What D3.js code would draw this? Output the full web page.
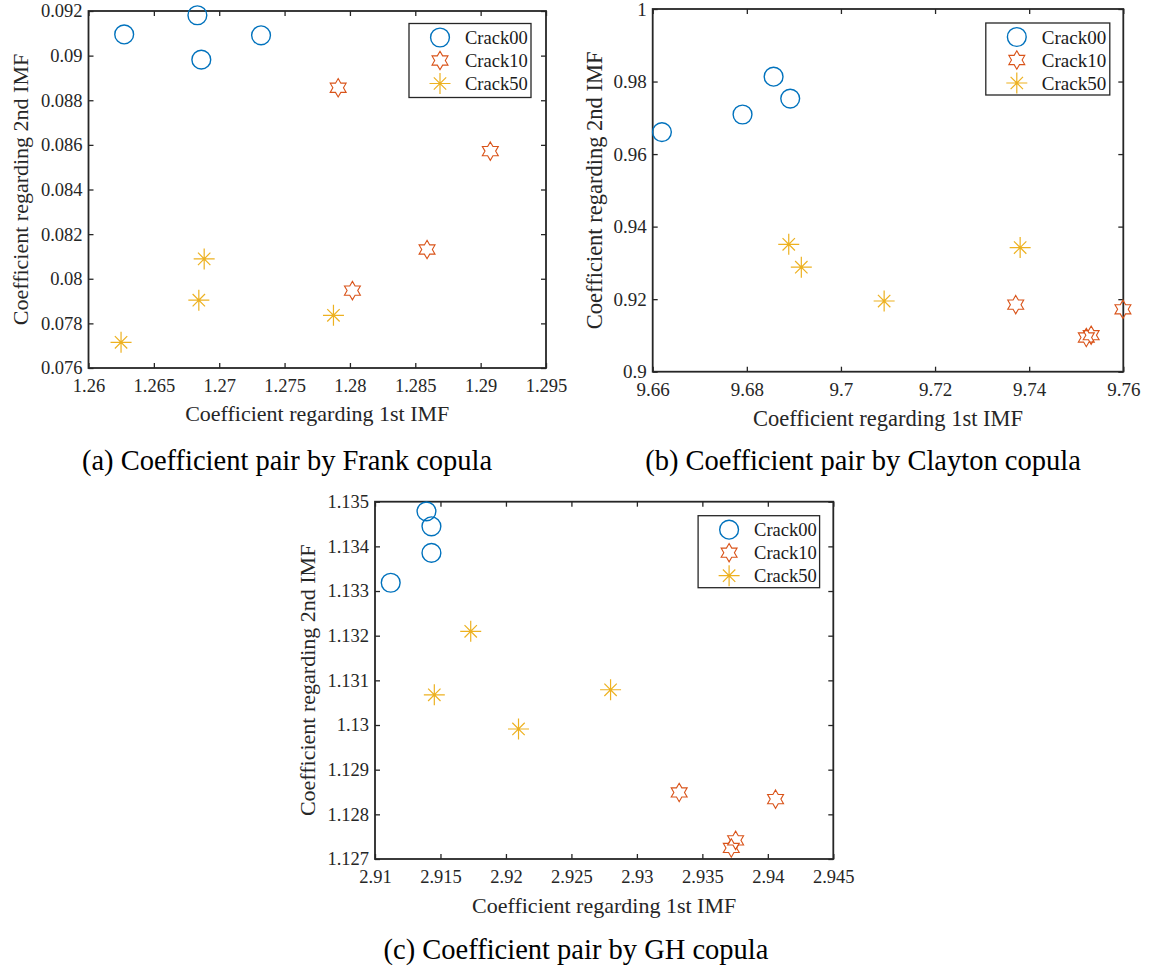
<!DOCTYPE html>
<html>
<head>
<meta charset="utf-8">
<script src="https://cdn.jsdelivr.net/npm/d3@7"></script>
<style>
  body { margin: 0; background: #fff; }
  svg text { font-family: "Liberation Serif", "Times New Roman", serif; }
</style>
</head>
<body>
<svg id="fig" width="1151" height="970"></svg>
<script>
// ---- data -------------------------------------------------------------
const seriesNames = ["Crack00", "Crack10", "Crack50"];

// (a) Frank copula: [1st IMF coefficient, 2nd IMF coefficient]
const frankCrack00 = [[1.26273, 0.09095], [1.26833, 0.09181], [1.26863, 0.08982], [1.27320, 0.09091]];
const frankCrack10 = [[1.27910, 0.08856], [1.29074, 0.08572], [1.28590, 0.08131], [1.28019, 0.07947]];
const frankCrack50 = [[1.26885, 0.08089], [1.26844, 0.07904], [1.26249, 0.07715], [1.27874, 0.07836]];
const frankXTicks = [1.26, 1.265, 1.27, 1.275, 1.28, 1.285, 1.29, 1.295];
const frankYTicks = [0.076, 0.078, 0.08, 0.082, 0.084, 0.086, 0.088, 0.09, 0.092];

// (b) Clayton copula
const claytonCrack00 = [[9.66196, 0.96606], [9.67909, 0.97091], [9.68569, 0.98134], [9.68922, 0.97530]];
const claytonCrack10 = [[9.73714, 0.91848], [9.75992, 0.91720], [9.75214, 0.90943], [9.75317, 0.91006]];
const claytonCrack50 = [[9.68891, 0.93513], [9.69158, 0.92882], [9.70918, 0.91949], [9.73808, 0.93422]];
const claytonXTicks = [9.66, 9.68, 9.7, 9.72, 9.74, 9.76];
const claytonYTicks = [0.9, 0.92, 0.94, 0.96, 0.98, 1];

// (c) GH copula
const ghCrack00 = [[2.91393, 1.134784], [2.91431, 1.134449], [2.91431, 1.133854], [2.91120, 1.133185]];
const ghCrack10 = [[2.93323, 1.128490], [2.94059, 1.128341], [2.93754, 1.127418], [2.93721, 1.127247]];
const ghCrack50 = [[2.91731, 1.132098], [2.91453, 1.130677], [2.92096, 1.129911], [2.92799, 1.130789]];
const ghXTicks = [2.91, 2.915, 2.92, 2.925, 2.93, 2.935, 2.94, 2.945];
const ghYTicks = [1.127, 1.128, 1.129, 1.13, 1.131, 1.132, 1.133, 1.134, 1.135];

const xTitle = "Coefficient regarding 1st IMF";
const yTitle = "Coefficient regarding 2nd IMF";

// ---- styling ----------------------------------------------------------
const seriesColor = { Crack00: "#0072BD", Crack10: "#D95319", Crack50: "#EDB120" };
const seriesMarker = { Crack00: "circle", Crack10: "hexagram", Crack50: "asterisk" };
const axisColor = "#262626";

const svg = d3.select("#fig");

// MATLAB-style marker glyphs centred on the origin
const hexagramPath = (() => {
  const R = 9.2, r = R / Math.sqrt(3);
  const pts = d3.range(12).map(i => [i * Math.PI / 6, i % 2 === 0 ? R : r]);
  return d3.lineRadial().angle(d => d[0]).radius(d => d[1]).curve(d3.curveLinearClosed)(pts);
})();

const asteriskPath = (() => {
  const p = d3.path();
  const a = 10.5, d = 6.2;
  p.moveTo(-a, 0); p.lineTo(a, 0);
  p.moveTo(0, -a); p.lineTo(0, a);
  p.moveTo(-d, -d); p.lineTo(d, d);
  p.moveTo(-d, d); p.lineTo(d, -d);
  return p.toString();
})();

function drawMarker(g, type, cx, cy, color) {
  if (type === "circle") {
    g.append("circle").attr("cx", cx).attr("cy", cy).attr("r", 9.4)
      .attr("fill", "none").attr("stroke", color).attr("stroke-width", 1.4);
  } else if (type === "hexagram") {
    g.append("path").attr("d", hexagramPath).attr("transform", `translate(${cx},${cy})`)
      .attr("fill", "none").attr("stroke", color).attr("stroke-width", 1.1)
      .attr("stroke-linejoin", "miter");
  } else {
    g.append("path").attr("d", asteriskPath).attr("transform", `translate(${cx},${cy})`)
      .attr("fill", "none").attr("stroke", color).attr("stroke-width", 1.2);
  }
}

function styleAxis(sel, fontSize) {
  sel.attr("font-family", null).attr("font-size", null);
  sel.select(".domain").remove();
  sel.selectAll(".tick line").attr("stroke", axisColor).attr("stroke-width", 1.3);
  sel.selectAll(".tick text").attr("fill", axisColor).style("font-size", fontSize + "px");
}

function drawPanel(cfg) {
  const w = cfg.right - cfg.left, h = cfg.bottom - cfg.top;
  const g = svg.append("g").attr("transform", `translate(${cfg.left},${cfg.top})`);

  const x = d3.scaleLinear().domain(d3.extent(cfg.xTicks)).range([0, w]);
  const y = d3.scaleLinear().domain(d3.extent(cfg.yTicks)).range([h, 0]);
  const fmt = d => String(d);

  g.append("g").attr("transform", `translate(0,${h})`)
    .call(d3.axisBottom(x).tickValues(cfg.xTicks).tickFormat(fmt).tickSize(-5).tickSizeOuter(0).tickPadding(11))
    .call(s => styleAxis(s, cfg.tickFont));
  g.append("g")
    .call(d3.axisTop(x).tickValues(cfg.xTicks).tickFormat("").tickSize(-5).tickSizeOuter(0))
    .call(s => styleAxis(s, cfg.tickFont));
  g.append("g")
    .call(d3.axisLeft(y).tickValues(cfg.yTicks).tickFormat(fmt).tickSize(-5).tickSizeOuter(0).tickPadding(6))
    .call(s => styleAxis(s, cfg.tickFont));
  g.append("g").attr("transform", `translate(${w},0)`)
    .call(d3.axisRight(y).tickValues(cfg.yTicks).tickFormat("").tickSize(-5).tickSizeOuter(0))
    .call(s => styleAxis(s, cfg.tickFont));

  g.append("rect").attr("width", w).attr("height", h)
    .attr("fill", "none").attr("stroke", axisColor).attr("stroke-width", 1.8);

  // axis titles
  g.append("text").attr("x", w / 2).attr("y", h + cfg.xTitleOffset).attr("dy", "0.35em")
    .attr("text-anchor", "middle").attr("fill", axisColor)
    .style("font-size", cfg.titleFont + "px").text(xTitle);
  g.append("text").attr("transform", `translate(${cfg.yTitleOffset},${h / 2}) rotate(-90)`)
    .attr("dy", "0.35em").attr("text-anchor", "middle").attr("fill", axisColor)
    .style("font-size", cfg.titleFont + "px").text(yTitle);

  // scatter points
  const pts = g.append("g");
  cfg.series.forEach((data, i) => {
    const name = seriesNames[i];
    data.forEach(d => drawMarker(pts, seriesMarker[name], x(d[0]), y(d[1]), seriesColor[name]));
  });

  // legend
  const lg = g.append("g").attr("transform", `translate(${w - cfg.legendInset - cfg.legendW},${cfg.legendTop})`);
  lg.append("rect").attr("width", cfg.legendW).attr("height", cfg.legendH)
    .attr("fill", "#fff").attr("stroke", axisColor).attr("stroke-width", 1.3);
  seriesNames.forEach((name, i) => {
    const cy = 14 + i * 23;
    drawMarker(lg, seriesMarker[name], 31, cy, seriesColor[name]);
    lg.append("text").attr("x", 56).attr("y", cy).attr("dy", "0.35em")
      .attr("fill", "#1a1a1a").style("font-size", cfg.tickFont + "px").text(name);
  });

  // caption
  svg.append("text").attr("x", cfg.captionX).attr("y", cfg.captionY)
    .attr("text-anchor", "middle").attr("fill", "#000")
    .style("font-size", "28.5px").text(cfg.caption);
}

drawPanel({
  left: 88.5, top: 11, right: 546, bottom: 368,
  xTicks: frankXTicks, yTicks: frankYTicks,
  series: [frankCrack00, frankCrack10, frankCrack50],
  tickFont: 18.5, titleFont: 22, xTitleOffset: 45, yTitleOffset: -68,
  legendInset: 15, legendTop: 12.5, legendW: 122, legendH: 74,
  caption: "(a) Coefficient pair by Frank copula", captionX: 287, captionY: 469.5
});

drawPanel({
  left: 652.7, top: 9, right: 1123.3, bottom: 371.7,
  xTicks: claytonXTicks, yTicks: claytonYTicks,
  series: [claytonCrack00, claytonCrack10, claytonCrack50],
  tickFont: 19, titleFont: 22.5, xTitleOffset: 46.5, yTitleOffset: -59,
  legendInset: 13.5, legendTop: 14, legendW: 124, legendH: 72,
  caption: "(b) Coefficient pair by Clayton copula", captionX: 863, captionY: 469.5
});

drawPanel({
  left: 375, top: 501.7, right: 833.3, bottom: 859,
  xTicks: ghXTicks, yTicks: ghYTicks,
  series: [ghCrack00, ghCrack10, ghCrack50],
  tickFont: 18.5, titleFont: 22, xTitleOffset: 46, yTitleOffset: -68,
  legendInset: 13.7, legendTop: 14, legendW: 121.5, legendH: 72,
  caption: "(c) Coefficient pair by GH copula", captionX: 576, captionY: 959
});
</script>
</body>
</html>
